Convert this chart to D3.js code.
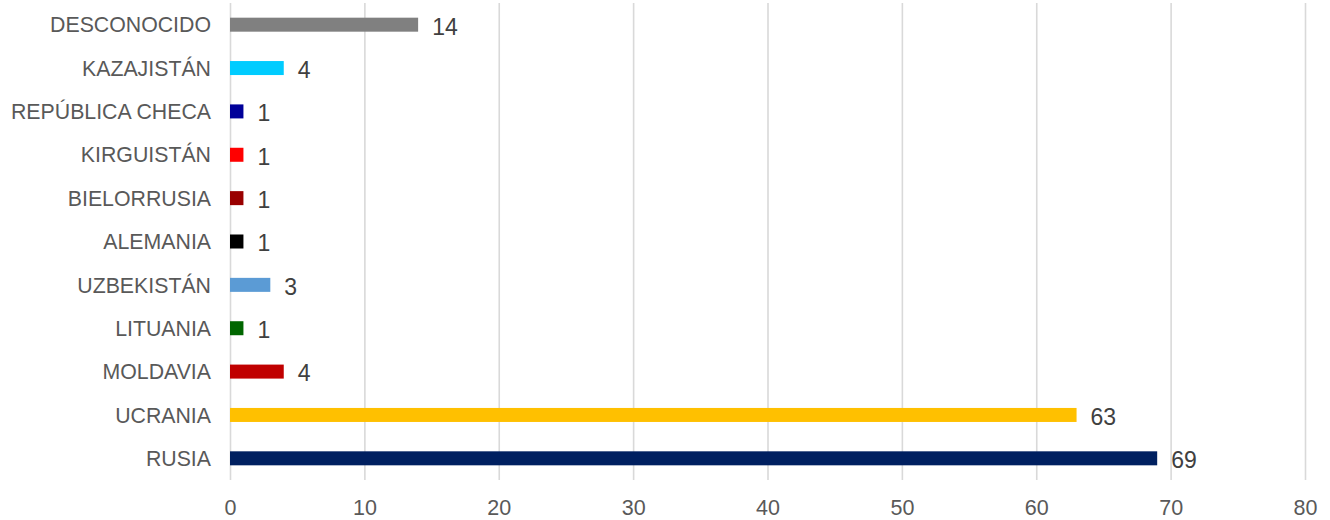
<!DOCTYPE html>
<html>
<head>
<meta charset="utf-8">
<script src="https://cdn.jsdelivr.net/npm/d3@7"></script>
<style>
  body { margin: 0; background: #fff; }
</style>
</head>
<body>
<div class="chart"></div>
<script>
// datos, de arriba a abajo
const countries = ["DESCONOCIDO", "KAZAJISTÁN", "REPÚBLICA CHECA", "KIRGUISTÁN", "BIELORRUSIA",
  "ALEMANIA", "UZBEKISTÁN", "LITUANIA", "MOLDAVIA", "UCRANIA", "RUSIA"];
const counts = [14, 4, 1, 1, 1, 1, 3, 1, 4, 63, 69];
const barColors = ["#808080", "#00CCFF", "#000099", "#FF0000", "#990000",
  "#000000", "#5B9BD5", "#006600", "#C00000", "#FFC000", "#002060"];
const xTicks = [0, 10, 20, 30, 40, 50, 60, 70, 80];

const data = countries.map((c, i) => ({country: c, value: counts[i], color: barColors[i]}));

const margin = {top: 3, left: 230, bottom: 40, right: 25};
const width = 1330 - margin.left - margin.right;
const height = 520 - margin.top - margin.bottom;

const svg = d3.select(".chart").append("svg")
  .attr("width", 1330)
  .attr("height", 520)
  .append("g")
  .attr("transform", "translate(" + margin.left + "," + margin.top + ")");

const xScale = d3.scaleLinear()
  .domain([0, 80])
  .range([0, width]);

const yScale = d3.scaleBand()
  .domain(countries)
  .range([0, height])
  .paddingInner(0.677)
  .paddingOuter(0.3385);

const xAxis = d3.axisBottom()
  .scale(xScale)
  .tickValues(xTicks)
  .tickSize(0)
  .tickPadding(20);

svg.append("g")
  .attr("class", "axis x-axis")
  .attr("transform", `translate(0, ${height})`)
  .call(xAxis)
  .call(g => g.select(".domain").remove())
  .call(g => g.selectAll(".tick line")
    .clone()
    .attr("y2", -height)
    .attr("stroke", "#d9d9d9")
    .attr("stroke-width", 1.6)
  )
  .call(g => g.selectAll(".tick text")
    .attr("font-family", "Liberation Sans, Arial, sans-serif")
    .attr("font-size", 21.5)
    .attr("fill", "#595959")
  );

const yAxis = d3.axisLeft()
  .scale(yScale)
  .tickSize(0)
  .tickPadding(19);

svg.append("g")
  .attr("class", "axis y-axis")
  .call(yAxis)
  .call(g => g.select(".domain").remove())
  .call(g => g.selectAll(".tick text")
    .attr("font-family", "Liberation Sans, Arial, sans-serif")
    .attr("font-size", 21.3)
    .attr("fill", "#595959")
    .attr("dy", "0.36em")
  );

svg.selectAll(".bar")
  .data(data)
  .enter()
  .append("rect")
  .attr("class", "bar")
  .attr("x", xScale(0))
  .attr("y", d => yScale(d.country))
  .attr("width", d => xScale(d.value) - xScale(0))
  .attr("height", yScale.bandwidth())
  .attr("fill", d => d.color);

svg.selectAll(".label")
  .data(data)
  .enter()
  .append("text")
  .attr("class", "label")
  .attr("x", d => xScale(d.value) + 14)
  .attr("y", d => yScale(d.country) + yScale.bandwidth() / 2)
  .attr("dy", "0.43em")
  .attr("font-family", "Liberation Sans, Arial, sans-serif")
  .attr("font-size", 23)
  .attr("fill", "#404040")
  .text(d => d.value);
</script>
</body>
</html>
